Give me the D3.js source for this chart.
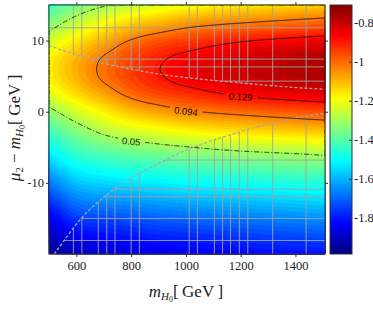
<!DOCTYPE html>
<html>
<head>
<meta charset="utf-8">
<script src="https://cdn.jsdelivr.net/npm/d3@7"></script>
<style>
  body { margin: 0; background: #fff; }
  svg { display: block; }
</style>
</head>
<body>
<div id="chart"></div>
<script>
// ---- data ----
// columns of the log10 grid (m_H0 in GeV)
const massGeV = [500, 600, 700, 800, 900, 1000, 1100, 1200, 1300, 1400, 1500];
// rows of the log10 grid (mu2 - m_H0 in GeV)
const splitGeV = [15, 12, 9, 7.5, 6, 4.5, 3, 0, -3, -6, -9, -12, -16, -20];

// log10 values, one array per row of splitGeV
const rowP15 = [-1.43, -1.36, -1.31, -1.268, -1.232, -1.205, -1.182, -1.166, -1.153, -1.141, -1.129];
const rowP12 = [-1.326, -1.244, -1.175, -1.112, -1.073, -1.038, -1.018, -1.003, -0.989, -0.976, -0.964];
const rowP9 = [-1.215, -1.13, -1.058, -0.987, -0.939, -0.91, -0.881, -0.857, -0.839, -0.826, -0.814];
const rowP7 = [-1.181, -1.096, -1.019, -0.955, -0.904, -0.865, -0.839, -0.816, -0.799, -0.786, -0.773];
const rowP6 = [-1.17, -1.085, -1.008, -0.945, -0.892, -0.852, -0.825, -0.803, -0.785, -0.772, -0.76];
const rowP4 = [-1.181, -1.096, -1.019, -0.955, -0.904, -0.865, -0.839, -0.816, -0.799, -0.786, -0.773];
const rowP3 = [-1.215, -1.13, -1.058, -0.987, -0.939, -0.91, -0.881, -0.857, -0.839, -0.826, -0.814];
const rowZ0 = [-1.326, -1.244, -1.175, -1.112, -1.073, -1.038, -1.018, -1.003, -0.989, -0.976, -0.964];
const rowM3 = [-1.43, -1.355, -1.292, -1.254, -1.225, -1.201, -1.18, -1.165, -1.153, -1.141, -1.129];
const rowM6 = [-1.53, -1.45, -1.413, -1.387, -1.369, -1.353, -1.337, -1.324, -1.315, -1.306, -1.295];
const rowM9 = [-1.64, -1.55, -1.52, -1.5, -1.485, -1.47, -1.46, -1.45, -1.44, -1.43, -1.425];
const rowM12 = [-1.75, -1.655, -1.63, -1.615, -1.6, -1.585, -1.575, -1.565, -1.555, -1.545, -1.535];
const rowM16 = [-1.88, -1.79, -1.77, -1.755, -1.74, -1.73, -1.72, -1.71, -1.7, -1.69, -1.68];
const rowM20 = [-1.97, -1.91, -1.885, -1.87, -1.86, -1.85, -1.84, -1.83, -1.82, -1.815, -1.81];

const contourLevels = [0.05, 0.094, 0.129];
const contourLabels = [
  { text: "0.05", m: 800, y: -4.2, angle: 5 },
  { text: "0.094", m: 1000, y: 0.05, angle: 7 },
  { text: "0.129", m: 1200, y: 2.1, angle: 3 }
];

// grey dashed boundary curves
const upperEdgeM = [500, 600, 700, 800, 900, 1000, 1100, 1200, 1300, 1400, 1510];
const upperEdgeY = [9.3, 8.0, 6.8, 6.0, 5.3, 4.8, 4.4, 4.05, 3.7, 3.4, 3.15];
const lowerEdgeM = [519, 550, 600, 700, 800, 900, 1000, 1100, 1200, 1300, 1400, 1510];
const lowerEdgeY = [-20, -18.4, -15.8, -12.0, -9.3, -7.3, -5.4, -4.0, -2.8, -1.75, -0.9, -0.2];

// grey scan lines outside the band
const gridM = [589, 620, 680, 711, 741, 800, 830, 1012, 1042, 1104, 1134, 1163, 1195, 1226, 1317, 1439];
const gridY = [11.8, 7.4, 6.3, 4.3, -6.8, -10.9, -11.95, -15, -18.1];

const xTicks = [600, 800, 1000, 1200, 1400];
const yTicks = [-10, 0, 10];
const barTicks = [-0.8, -1, -1.2, -1.4, -1.6, -1.8];
const barDomain = [-1.985, -0.71];

// ---- layout ----
const W = 373, H = 309;
const mLeft = 49, mTop = 5, pw = 276, ph = 249;
const serif = "'Liberation Serif', 'DejaVu Serif', serif";

const svg = d3.select("#chart").append("svg").attr("width", W).attr("height", H);

const x = d3.scaleLinear().domain([500, 1508]).range([0, pw]);
const y = d3.scaleLinear().domain([-20, 15]).range([ph, 0]);

const jet = (t) => {
  const c = (v) => Math.max(0, Math.min(1, v));
  const r = c(1.5 - Math.abs(4 * t - 3));
  const g = c(1.5 - Math.abs(4 * t - 2));
  const b = c(1.5 - Math.abs(4 * t - 1));
  return d3.rgb(r * 255, g * 255, b * 255).formatHex();
};
const tScale = d3.scaleLinear().domain(barDomain).range([0, 1]).clamp(true);
const color = (v) => jet(tScale(v));

// cubic Hermite through the read values (render smoothing only)
function hermite(xs, ys, xv) {
  const n = xs.length;
  const slope = (k) => {
    if (k === 0) return (ys[1] - ys[0]) / (xs[1] - xs[0]);
    if (k === n - 1) return (ys[n - 1] - ys[n - 2]) / (xs[n - 1] - xs[n - 2]);
    const h0 = xs[k] - xs[k - 1], h1 = xs[k + 1] - xs[k];
    const s0 = (ys[k] - ys[k - 1]) / h0, s1 = (ys[k + 1] - ys[k]) / h1;
    return (s0 * h1 + s1 * h0) / (h0 + h1);
  };
  if (xv <= xs[0]) return ys[0] + slope(0) * (xv - xs[0]);
  if (xv >= xs[n - 1]) return ys[n - 1] + slope(n - 1) * (xv - xs[n - 1]);
  let i = 0;
  while (xv > xs[i + 1]) i++;
  const h = xs[i + 1] - xs[i], t = (xv - xs[i]) / h, t2 = t * t, t3 = t2 * t;
  return (2 * t3 - 3 * t2 + 1) * ys[i] + (t3 - 2 * t2 + t) * h * slope(i) +
    (-2 * t3 + 3 * t2) * ys[i + 1] + (t3 - t2) * h * slope(i + 1);
}

const rows = [rowP15, rowP12, rowP9, rowP7, rowP6, rowP4, rowP3, rowZ0, rowM3, rowM6, rowM9, rowM12, rowM16, rowM20];
const nx = pw, ny = ph;
const fineM = d3.range(nx).map((i) => x.invert(i + 0.5));
const fineY = d3.range(ny).map((j) => y.invert(j + 0.5));
const rowsFine = rows.map((r) => fineM.map((m) => hermite(massGeV, r, m)));
const yAsc = splitGeV.slice().reverse();
const values = new Float64Array(nx * ny);
for (let i = 0; i < nx; i++) {
  const col = rowsFine.map((r) => r[i]).reverse();
  for (let j = 0; j < ny; j++) values[j * nx + i] = hermite(yAsc, col, fineY[j]);
}

const plot = svg.append("g").attr("transform", `translate(${mLeft},${mTop})`);
const defs = svg.append("defs");

// filled contour bands
const step = 0.02;
const thresholds = d3.range(-2.0, -0.70, step);
const bands = d3.contours().size([nx, ny]).thresholds(thresholds)(values);
const path = d3.geoPath();
plot.append("g")
  .selectAll("path")
  .data(bands)
  .join("path")
  .attr("d", path)
  .attr("fill", (d) => color(d.value + step / 2))
  .attr("stroke", (d) => color(d.value + step / 2))
  .attr("stroke-width", 0.4);

// region outside the allowed band, used to clip the grey scan lines
const edgeLine = d3.line().x((d) => x(d[0])).y((d) => y(d[1])).curve(d3.curveMonotoneX);
const upperPts = upperEdgeM.map((m, i) => [m, upperEdgeY[i]]);
const lowerPts = lowerEdgeM.map((m, i) => [m, lowerEdgeY[i]]);
const clip = defs.append("clipPath").attr("id", "outside");
clip.append("path").attr("d", edgeLine(upperPts) + `L${x(1510)},${y(15) - 2}L${x(500)},${y(15) - 2}Z`);
clip.append("path").attr("d", edgeLine(lowerPts) + `L${x(1510)},${y(-20) + 2}L${x(519)},${y(-20) + 2}Z`);

const scan = plot.append("g").attr("clip-path", "url(#outside)")
  .attr("stroke", "#a2a2a2").attr("stroke-width", 0.9);
scan.selectAll("line.v").data(gridM).join("line").attr("class", "v")
  .attr("x1", (d) => x(d)).attr("x2", (d) => x(d)).attr("y1", 0).attr("y2", ph);
scan.selectAll("line.h").data(gridY).join("line").attr("class", "h")
  .attr("y1", (d) => y(d)).attr("y2", (d) => y(d)).attr("x1", 0).attr("x2", pw);

const plotClip = defs.append("clipPath").attr("id", "plotArea");
plotClip.append("rect").attr("width", pw).attr("height", ph);

const curves = plot.append("g").attr("clip-path", "url(#plotArea)")
  .attr("fill", "none").attr("stroke", "#a8a8a8").attr("stroke-width", 1.3)
  .attr("stroke-dasharray", "3,2");
curves.append("path").attr("d", edgeLine(upperPts));
curves.append("path").attr("d", edgeLine(lowerPts));

// contour lines, with gaps under the labels
const mask = defs.append("mask").attr("id", "labelGaps")
  .attr("maskUnits", "userSpaceOnUse").attr("x", 0).attr("y", 0).attr("width", pw).attr("height", ph);
mask.append("rect").attr("width", pw).attr("height", ph).attr("fill", "#fff");
mask.selectAll("rect.gap").data(contourLabels).join("rect").attr("class", "gap")
  .attr("x", (d) => -d.text.length * 2.9 - 2).attr("y", -5)
  .attr("width", (d) => d.text.length * 5.8 + 4).attr("height", 10)
  .attr("transform", (d) => `translate(${x(d.m)},${y(d.y)}) rotate(${d.angle})`)
  .attr("fill", "#000");

const lines = d3.contours().size([nx, ny]).thresholds(contourLevels.map(Math.log10))(values);
plot.append("g").attr("clip-path", "url(#plotArea)")
  .append("g").attr("mask", "url(#labelGaps)")
  .selectAll("path").data(lines).join("path")
  .attr("d", path)
  .attr("fill", "none")
  .attr("stroke", "#111")
  .attr("stroke-width", 0.9)
  .attr("stroke-dasharray", (d, i) => (i === 0 ? "5,2,1,2" : null));

plot.selectAll("text.clabel").data(contourLabels).join("text").attr("class", "clabel")
  .attr("transform", (d) => `translate(${x(d.m)},${y(d.y)}) rotate(${d.angle})`)
  .attr("text-anchor", "middle").attr("dy", "0.35em")
  .attr("font-family", "'Liberation Sans', Arial, sans-serif").attr("font-size", 9.5)
  .attr("fill", "#111")
  .text((d) => d.text);

// frame
plot.append("rect").attr("width", pw).attr("height", ph)
  .attr("fill", "none").attr("stroke", "#333").attr("stroke-width", 1);

// axes
const styleAxis = (g) => {
  g.select(".domain").remove();
  g.selectAll(".tick line").attr("stroke", "#333");
  g.selectAll("text").attr("font-family", serif).attr("font-size", 12.5).attr("fill", "#222");
};
plot.append("g").attr("transform", `translate(0,${ph})`)
  .call(d3.axisBottom(x).tickValues(xTicks).tickSize(3).tickPadding(4).tickFormat((d) => String(d)))
  .call(styleAxis);
plot.append("g")
  .call(d3.axisTop(x).tickValues(xTicks).tickSize(3).tickFormat(""))
  .call(styleAxis);
plot.append("g")
  .call(d3.axisLeft(y).tickValues(yTicks).tickSize(3).tickPadding(2).tickFormat((d) => String(d)))
  .call(styleAxis);
plot.append("g").attr("transform", `translate(${pw},0)`)
  .call(d3.axisRight(y).tickValues(yTicks).tickSize(3).tickFormat(""))
  .call(styleAxis);

// axis titles
const xt = svg.append("text").attr("x", 186).attr("y", 297)
  .attr("text-anchor", "middle").attr("font-family", serif).attr("font-size", 17).attr("fill", "#222");
xt.append("tspan").attr("font-style", "italic").text("m");
xt.append("tspan").attr("font-style", "italic").attr("font-size", 11).attr("dy", 3).text("H");
xt.append("tspan").attr("font-size", 8).attr("dy", 2).text("0");
xt.append("tspan").attr("dy", -5).text("[\u2009GeV\u2009]");

const yt = svg.append("text").attr("transform", "translate(20,128) rotate(-90)")
  .attr("text-anchor", "middle").attr("font-family", serif).attr("font-size", 17).attr("fill", "#222");
yt.append("tspan").attr("font-style", "italic").text("\u03bc");
yt.append("tspan").attr("font-size", 11).attr("dy", 3).text("2");
yt.append("tspan").attr("dy", -3).text(" \u2212 ");
yt.append("tspan").attr("font-style", "italic").text("m");
yt.append("tspan").attr("font-style", "italic").attr("font-size", 11).attr("dy", 3).text("H");
yt.append("tspan").attr("font-size", 8).attr("dy", 2).text("0");
yt.append("tspan").attr("dy", -5).text("[\u2009GeV\u2009]");

// colour bar
const bw = 22, bx = 330;
const grad = defs.append("linearGradient").attr("id", "jetGrad")
  .attr("x1", 0).attr("y1", 1).attr("x2", 0).attr("y2", 0);
grad.selectAll("stop").data(d3.range(0, 1.0001, 1 / 64)).join("stop")
  .attr("offset", (d) => d).attr("stop-color", (d) => jet(d));
const bar = svg.append("g").attr("transform", `translate(${bx},${mTop})`);
bar.append("rect").attr("width", bw).attr("height", ph).attr("fill", "url(#jetGrad)");
const cb = d3.scaleLinear().domain(barDomain).range([ph, 0]);
bar.append("g").attr("transform", `translate(${bw},0)`)
  .call(d3.axisRight(cb).tickValues(barTicks).tickSize(-3).tickPadding(2).tickFormat((d) => String(d)))
  .call(styleAxis);
bar.append("rect").attr("width", bw).attr("height", ph)
  .attr("fill", "none").attr("stroke", "#333").attr("stroke-width", 1);
</script>
</body>
</html>
